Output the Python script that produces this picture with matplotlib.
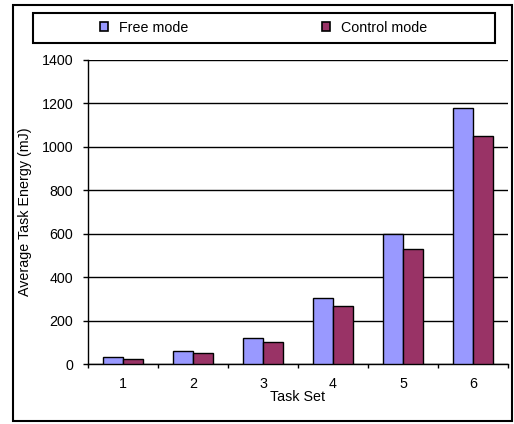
import matplotlib
matplotlib.use("Agg")
import matplotlib.pyplot as plt
from matplotlib.patches import Rectangle, Patch
import numpy as np

# average task energy per task set (mJ)
task_sets = ["1", "2", "3", "4", "5", "6"]
free_mode = [34, 58, 120, 302, 598, 1179]
control_mode = [25, 51, 103, 268, 528, 1049]

plt.rcParams["font.family"] = ["Liberation Sans", "DejaVu Sans"]
plt.rcParams["font.size"] = 10.3

fig = plt.figure(figsize=(5.14, 4.24), dpi=100)
ax = fig.add_axes([0.1712, 0.1415, 0.8171, 0.717])

x = np.arange(1, len(task_sets) + 1)
w = 0.29
ax.bar(x - w / 2, free_mode, w, color="#9999FF", edgecolor="black", linewidth=1.0, zorder=3)
ax.bar(x + w / 2, control_mode, w, color="#993366", edgecolor="black", linewidth=1.0, zorder=3)

ax.set_xlim(0.5, len(task_sets) + 0.5)
ax.set_ylim(0, 1400)
ax.set_yticks(range(0, 1401, 200))
ax.yaxis.grid(True, color="black", linewidth=1.0, zorder=0)
ax.set_axisbelow(True)

# ticks at category boundaries, labels at the centres
ax.set_xticks(np.arange(0.5, len(task_sets) + 1, 1.0))
ax.set_xticklabels([])
ax.set_xticks(x, minor=True)
ax.set_xticklabels(task_sets, minor=True)
ax.tick_params(axis="x", which="major", direction="out", length=3, width=1, color="black")
ax.tick_params(axis="x", which="minor", length=0, pad=9)
ax.tick_params(axis="y", direction="out", length=3.5, width=1, pad=7)

for s in ["top", "right"]:
    ax.spines[s].set_visible(False)
ax.spines["left"].set_linewidth(1.0)
ax.spines["bottom"].set_linewidth(1.0)

ax.set_ylabel("Average Task Energy (mJ)")
ax.yaxis.set_label_coords(-0.133, 0.5)
ax.set_xlabel("Task Set")
ax.xaxis.set_label_coords(0.5, -0.087)

# outer border and legend frame
fig.patches.append(Rectangle((0.0253, 0.0078), 0.9717, 0.9802, transform=fig.transFigure,
                             fill=False, edgecolor="black", linewidth=1.5))
fig.patches.append(Rectangle((0.0636, 0.899), 0.8994, 0.071, transform=fig.transFigure,
                             fill=False, edgecolor="black", linewidth=1.5))

handles = [Patch(facecolor="#9999FF", edgecolor="black", linewidth=1.2),
           Patch(facecolor="#993366", edgecolor="black", linewidth=1.2)]
fig.legend(handles, ["Free mode", "Control mode"], loc="center",
           bbox_to_anchor=(0.513, 0.9345), ncol=2, frameon=False,
           handlelength=0.56, handleheight=0.56, handletextpad=0.77, columnspacing=9.3)

fig.savefig("out.png", dpi=100)
